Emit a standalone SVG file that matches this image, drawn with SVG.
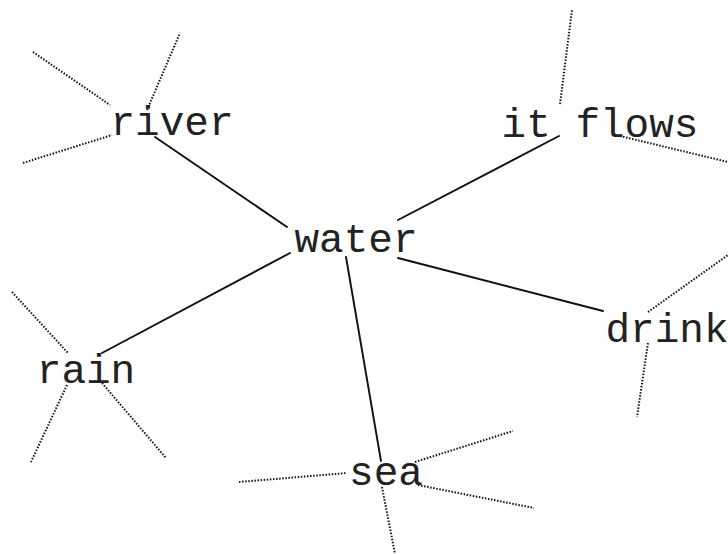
<svg xmlns="http://www.w3.org/2000/svg" width="728" height="554" viewBox="0 0 728 554">
<style>
.bg{fill:#fff}
.lbl{font-family:"Liberation Mono","Courier New",monospace;font-size:41px;fill:#222;text-anchor:middle}
.edge{stroke:#111;stroke-width:1.9;fill:none;stroke-linecap:round}
.ray{stroke:#111;stroke-width:2;fill:none;stroke-dasharray:1.5 1.6}
</style>
<rect class="bg" width="728" height="554"/>
<g id="connectors">
<line class="edge" x1="155" y1="137" x2="287" y2="227"/>
<line class="edge" x1="559" y1="136" x2="398" y2="220"/>
<line class="edge" x1="290" y1="253" x2="102" y2="353"/>
<line class="edge" x1="346" y1="257" x2="381" y2="461"/>
<line class="edge" x1="398" y1="258" x2="603" y2="311"/>
</g>
<g id="rays">
<line class="ray" x1="33" y1="52" x2="110" y2="105"/>
<line class="ray" x1="147" y1="110" x2="180" y2="33"/>
<line class="ray" x1="23" y1="163" x2="112" y2="135"/>
<line class="ray" x1="560" y1="104" x2="572" y2="10"/>
<line class="ray" x1="620" y1="136" x2="728" y2="162"/>
<line class="ray" x1="12" y1="292" x2="68" y2="353"/>
<line class="ray" x1="67" y1="385" x2="31" y2="462"/>
<line class="ray" x1="102" y1="383" x2="166" y2="458"/>
<line class="ray" x1="648" y1="312" x2="728" y2="255"/>
<line class="ray" x1="648" y1="343" x2="637" y2="417"/>
<line class="ray" x1="239" y1="482" x2="347" y2="473"/>
<line class="ray" x1="415" y1="462" x2="513" y2="431"/>
<line class="ray" x1="418" y1="485" x2="534" y2="508"/>
<line class="ray" x1="382" y1="487" x2="395" y2="554"/>
</g>
<g id="node-water"><text class="lbl" x="356" y="252">water</text></g>
<g id="node-river"><text class="lbl" x="172" y="135">river</text></g>
<g id="node-itflows"><text class="lbl" x="600" y="137">it flows</text></g>
<g id="node-rain"><text class="lbl" x="86" y="383">rain</text></g>
<g id="node-drink"><text class="lbl" x="667" y="342">drink</text></g>
<g id="node-sea"><text class="lbl" x="386" y="485">sea</text></g>
</svg>
